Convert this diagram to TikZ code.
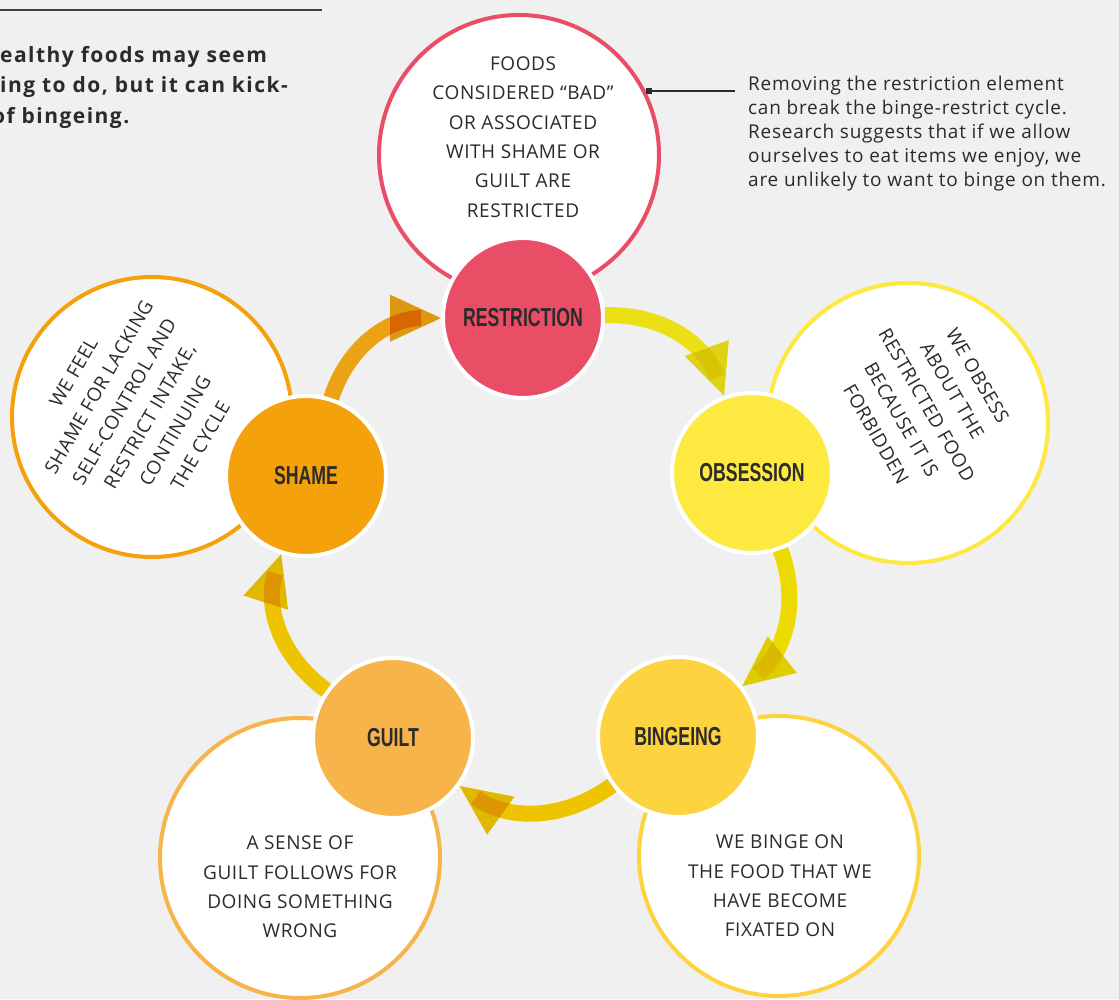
\documentclass[tikz,border=0pt]{standalone}
\usepackage{fontspec,graphicx}
\setmainfont{Open Sans}
\newfontfamily\labelfont{Liberation Sans}
\usetikzlibrary{arrows.meta}

\definecolor{bgc}{HTML}{F0F0F0}
\definecolor{txt}{HTML}{2B2B2B}
\definecolor{restr}{HTML}{E94E66}
\definecolor{obses}{HTML}{FDE93F}
\definecolor{binge}{HTML}{FDD33F}
\definecolor{guilt}{HTML}{F6B44A}
\definecolor{shame}{HTML}{F4A10B}
\definecolor{flowa}{HTML}{EBE016}
\definecolor{flowb}{HTML}{ECDA00}
\definecolor{flowc}{HTML}{EEC400}
\definecolor{flowd}{HTML}{EEC400}
\definecolor{flowe}{HTML}{EBA214}

\newcommand\stagename[1]{\scalebox{0.68}[1]{#1}}

\tikzset{
  stage/.style={circle,fill=#1,draw=white,line width=4pt,minimum size=160pt,inner sep=0pt,
    text=txt,font=\labelfont\bfseries\fontsize{26}{26}\selectfont},
  bigc/.style={circle,fill=white,draw=#1,line width=4pt,minimum size=280pt,inner sep=0pt},
  note/.style={align=center,text=txt,font=\fontsize{19}{29.3}\selectfont\addfontfeatures{LetterSpace=3}},
  flow/.style={draw=#1,line width=16pt,shorten >=20pt},
  flowhead/.style={draw=#1,line width=0.1pt,draw opacity=0,-{Triangle[length=51pt,width=47pt,round]}}
}

\begin{document}
\begin{tikzpicture}[x=1pt,y=1pt]
\fill[bgc](0,0)rectangle(1119,999);
\useasboundingbox(0,0)rectangle(1119,999);
% intro
\draw[txt!90,line width=2pt](0,989)--(322,989);
\node[anchor=north west,align=left,text=txt,inner sep=0pt,
  font=\bfseries\fontsize{21}{30.5}\selectfont\addfontfeatures{LetterSpace=7}](intro)at(0,953)
  {ealthy foods may seem\\ing to do, but it can kick-\\\hspace*{-8pt}of bingeing.};
% outer circles
\node[bigc=restr](restrbig)at(519,844){};
\node[bigc=obses](obsesbig)at(908,576){};
\node[bigc=binge](bingebig)at(779,143){};
\node[bigc=guilt](guiltbig)at(300,141){};
\node[bigc=shame](shamebig)at(152,582){};
\node[note](restrtext)at(523,862){FOODS\\CONSIDERED ``BAD''\\OR ASSOCIATED\\WITH SHAME OR\\GUILT ARE\\RESTRICTED};
\node[note,rotate=-60](obsestext)at(927,594){WE OBSESS\\ABOUT THE\\RESTRICTED FOOD\\BECAUSE IT IS\\FORBIDDEN};
\node[note](bingetext)at(780,113){WE BINGE ON\\THE FOOD THAT WE\\HAVE BECOME\\FIXATED ON};
\node[note](guilttext)at(300,112){A SENSE OF\\GUILT FOLLOWS FOR\\DOING SOMETHING\\WRONG};
\node[note,rotate=60](shametext)at(137,590){WE FEEL\\SHAME FOR LACKING\\SELF-CONTROL AND\\RESTRICT INTAKE,\\CONTINUING\\THE CYCLE};
% stages
\node[stage=restr](restr)at(523,681){\stagename{RESTRICTION}};
\node[stage=obses](obses)at(752,526){\stagename{OBSESSION}};
\node[stage=binge](binge)at(678,262){\stagename{BINGEING}};
\node[stage=guilt](guilt)at(393,261){\stagename{GUILT}};
\node[stage=shame](shame)at(306,523){\stagename{SHAME}};
% cycle arrows, heads laid over the shafts
\foreach \a/\b/\c in {restr/obses/flowa,obses/binge/flowb,binge/guilt/flowc,guilt/shame/flowd,shame/restr/flowe}
  \draw[flow=\c](\a)to[bend left=36](\b);
\begin{scope}[blend mode=multiply]
\foreach \a/\b/\c in {restr/obses/flowa,obses/binge/flowb,binge/guilt/flowc,guilt/shame/flowd,shame/restr/flowe}
  \draw[flowhead=\c](\a)to[bend left=36](\b);
\end{scope}
% side note
\node[fill=txt,minimum size=6pt,inner sep=0pt](pin)at(649,908){};
\coordinate(pinend)at(735,908);
\draw[txt,line width=1.2pt](pin)--(pinend);
\node[anchor=north west,align=left,text=txt,inner sep=0pt,
  font=\fontsize{19}{24}\selectfont\addfontfeatures{LetterSpace=4}](sidenote)at(748,923)
  {Removing the restriction element\\can break the binge-restrict cycle.\\Research suggests that if we allow\\ourselves to eat items we enjoy, we\\are unlikely to want to binge on them.};
\end{tikzpicture}
\end{document}
